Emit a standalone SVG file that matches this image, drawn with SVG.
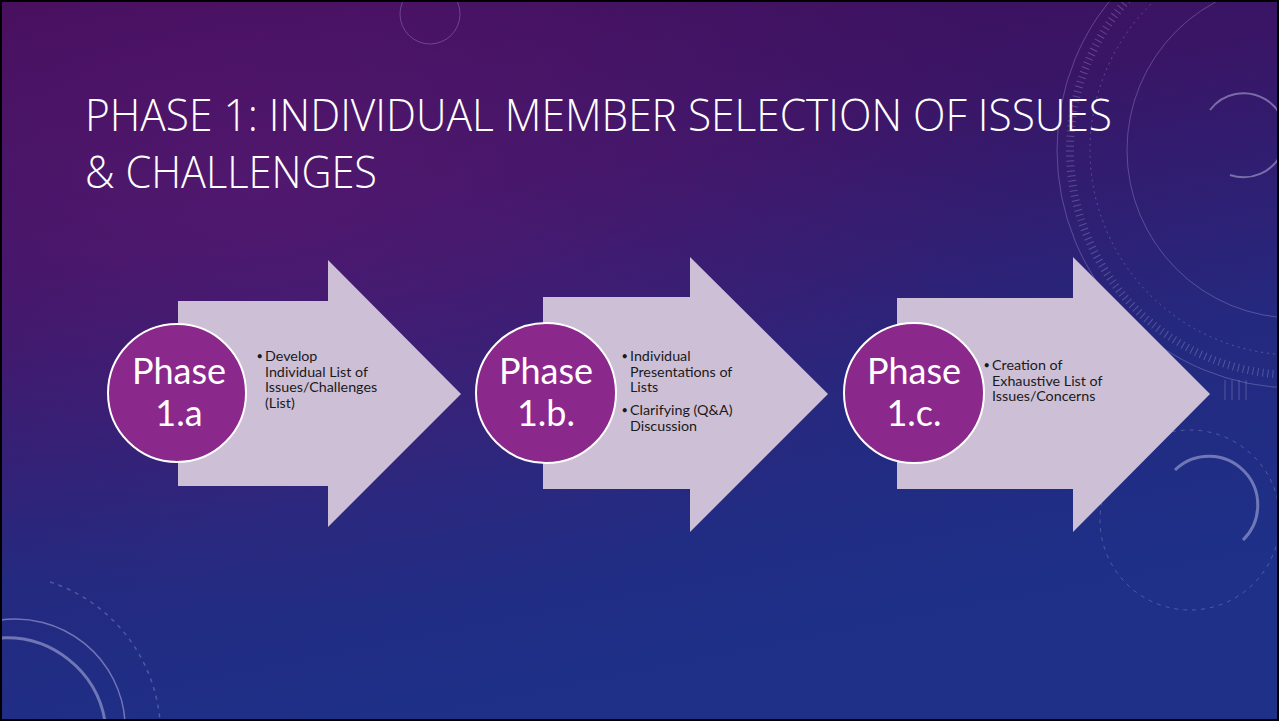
<svg xmlns="http://www.w3.org/2000/svg" width="1279" height="721" viewBox="0 0 1279 721">
<defs>
<linearGradient id="bg" x1="0" y1="0" x2="0.35" y2="1">
<stop offset="0" stop-color="#400c58"/>
<stop offset="0.35" stop-color="#3a1566"/>
<stop offset="0.7" stop-color="#24297f"/>
<stop offset="1" stop-color="#1e3088"/>
</linearGradient>
<radialGradient id="glow" cx="0.2" cy="0.25" r="0.6">
<stop offset="0" stop-color="#6a1d7a" stop-opacity="0.45"/>
<stop offset="1" stop-color="#6a1d7a" stop-opacity="0"/>
</radialGradient>
<style>
.deco{fill:none;stroke:#c8c8f0;stroke-opacity:0.28}
.decob{fill:none;stroke:#d0d0f5;stroke-opacity:0.45}
.arrow{fill:#cdbfd6}
.circ{fill:#8b288b;stroke:#ffffff;stroke-width:2}
.ph{font-family:Lato,'Open Sans',sans-serif;font-size:36px;fill:#ffffff;text-anchor:middle}
.bl{font-family:Lato,'Open Sans',sans-serif;font-size:14.3px;fill:#1a1a1a}
.dot{font-family:Lato,'Open Sans',sans-serif;font-size:11px;fill:#1a1a1a}
.title{font-family:'Open Sans','Liberation Sans',sans-serif;font-weight:300;font-size:44px;fill:#ffffff}
</style>
</defs>
<rect x="0" y="0" width="1279" height="721" fill="url(#bg)"/>
<rect x="0" y="0" width="1279" height="721" fill="url(#glow)"/>
<g id="decorations">
<circle class="deco" cx="430" cy="14" r="30"/>
<circle class="deco" cx="1295" cy="150" r="238"/>
<circle class="deco" cx="1295" cy="150" r="205" stroke-dasharray="2 4"/>
<circle class="deco" cx="1295" cy="150" r="168"/>
<circle class="deco" cx="1295" cy="150" r="225" stroke-width="8" stroke-dasharray="1 4"/>
<path class="decob" d="M1210 110 A42 42 0 1 1 1230 175" stroke-width="2"/>
<path class="decob" d="M1175 470 A48 48 0 0 1 1243 540" stroke-width="3"/>
<circle class="deco" cx="1190" cy="520" r="90" stroke-dasharray="4 5"/>
<path class="decob" d="M0 620 A110 110 0 0 1 125 721" stroke-width="1.5"/>
<path class="decob" d="M0 638 A100 100 0 0 1 105 721" stroke-width="3"/>
<path class="deco" d="M50 582 A160 160 0 0 1 160 721" stroke-dasharray="4 5" stroke-width="1.5"/>
<path class="deco" d="M1160 380 L1180 380 M1225 380 L1225 400 M1232 380 L1232 400 M1239 380 L1239 400 M1246 380 L1246 400"/>
</g>
<g id="title">
<text class="title" x="85" y="131" textLength="1027" lengthAdjust="spacingAndGlyphs">PHASE 1: INDIVIDUAL MEMBER SELECTION OF ISSUES</text>
<text class="title" x="85" y="188" textLength="292" lengthAdjust="spacingAndGlyphs">&amp; CHALLENGES</text>
</g>
<g id="phase-1a">
<polygon class="arrow" points="178,301 328,301 328,260 461,394 328,527 328,486 178,486"/>
<circle class="circ" cx="177" cy="393" r="69"/>
<text class="ph" x="179" y="384">Phase</text>
<text class="ph" x="179" y="426">1.a</text>
<text class="dot" x="256.5" y="360">•</text>
<text class="bl"><tspan x="265" y="361">Develop</tspan><tspan x="265" y="376.5">Individual List of</tspan><tspan x="265" y="392">Issues/Challenges</tspan><tspan x="265" y="407.5">(List)</tspan></text>
</g>
<g id="phase-1b">
<polygon class="arrow" points="543,297 690,297 690,257 828,394 690,532 690,489 543,489"/>
<circle class="circ" cx="546" cy="393" r="70"/>
<text class="ph" x="546" y="384">Phase</text>
<text class="ph" x="546" y="426">1.b.</text>
<text class="dot" x="621.5" y="360">•</text>
<text class="bl"><tspan x="630" y="361">Individual</tspan><tspan x="630" y="376.5">Presentations of</tspan><tspan x="630" y="392">Lists</tspan></text>
<text class="dot" x="621.5" y="414">•</text>
<text class="bl"><tspan x="630" y="415">Clarifying (Q&amp;A)</tspan><tspan x="630" y="430.5">Discussion</tspan></text>
</g>
<g id="phase-1c">
<polygon class="arrow" points="897,298 1073,298 1073,257 1210,394 1073,532 1073,489 897,489"/>
<circle class="circ" cx="914" cy="393" r="70"/>
<text class="ph" x="914" y="384">Phase</text>
<text class="ph" x="914" y="426">1.c.</text>
<text class="dot" x="983.5" y="369">•</text>
<text class="bl"><tspan x="992" y="370">Creation of</tspan><tspan x="992" y="385.5">Exhaustive List of</tspan><tspan x="992" y="401">Issues/Concerns</tspan></text>
</g>
<g id="connectors"></g>
<rect x="1" y="1" width="1277" height="719" fill="none" stroke="#000000" stroke-width="2"/>
</svg>
